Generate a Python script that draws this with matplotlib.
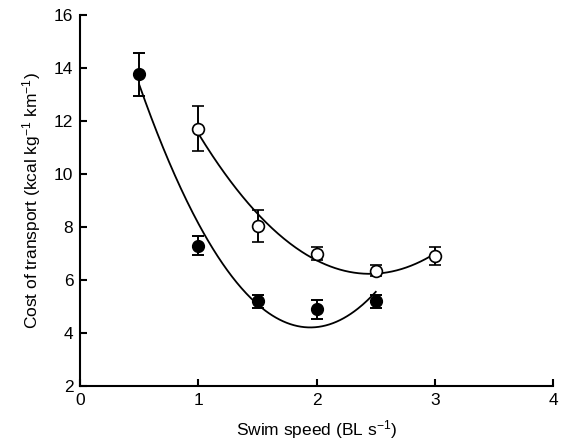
import numpy as np
import matplotlib
matplotlib.use('Agg')
import matplotlib.pyplot as plt

plt.rcParams['font.family'] = ['Liberation Sans', 'DejaVu Sans']
plt.rcParams['mathtext.fontset'] = 'custom'
plt.rcParams['mathtext.rm'] = 'Liberation Sans'
plt.rcParams['mathtext.it'] = 'Liberation Sans'

# filled circles
speed_filled = [0.5, 1.0, 1.5, 2.0, 2.5]
cot_filled = [13.75, 7.3, 5.2, 4.9, 5.2]
err_filled = [0.8, 0.35, 0.25, 0.35, 0.25]

# open circles
speed_open = [1.0, 1.5, 2.0, 2.5, 3.0]
cot_open = [11.7, 8.05, 7.0, 6.35, 6.9]
err_open = [0.85, 0.6, 0.25, 0.2, 0.35]

fig = plt.figure(figsize=(5.69, 4.48), dpi=100)
ax = fig.add_axes([0.141, 0.138, 0.831, 0.829])

# fitted quadratic curves
for xs, ys in [(speed_filled, cot_filled), (speed_open, cot_open)]:
    p = np.polyfit(xs, ys, 2)
    xx = np.linspace(min(xs), max(xs), 200)
    ax.plot(xx, np.polyval(p, xx), color='black', lw=1.3, zorder=2)

ax.errorbar(speed_filled, cot_filled, yerr=err_filled, fmt='o', color='black',
            mfc='black', mec='black', ms=8.5, capsize=4, elinewidth=1.4,
            capthick=1.4, zorder=3)
ax.errorbar(speed_open, cot_open, yerr=err_open, fmt='o', color='black',
            mfc='white', mec='black', ms=8.5, mew=1.2, capsize=4, elinewidth=1.4,
            capthick=1.4, zorder=3)

ax.set_xlim(0, 4)
ax.set_ylim(2, 16)
ax.set_xticks([0, 1, 2, 3, 4])
ax.set_yticks([2, 4, 6, 8, 10, 12, 14, 16])
ax.spines['right'].set_color('none')
ax.spines['top'].set_color('none')
ax.spines['left'].set_linewidth(1.5)
ax.spines['bottom'].set_linewidth(1.5)
ax.tick_params(direction='in', length=5, width=1.5, labelsize=12.5, pad=5)
ax.set_xlabel('Swim speed (BL s$^{-1}$)', fontsize=12.5, labelpad=7)
ax.set_ylabel('Cost of transport (kcal kg$^{-1}$ km$^{-1}$)', fontsize=12.5, labelpad=8)

fig.savefig('out.png', dpi=100)
